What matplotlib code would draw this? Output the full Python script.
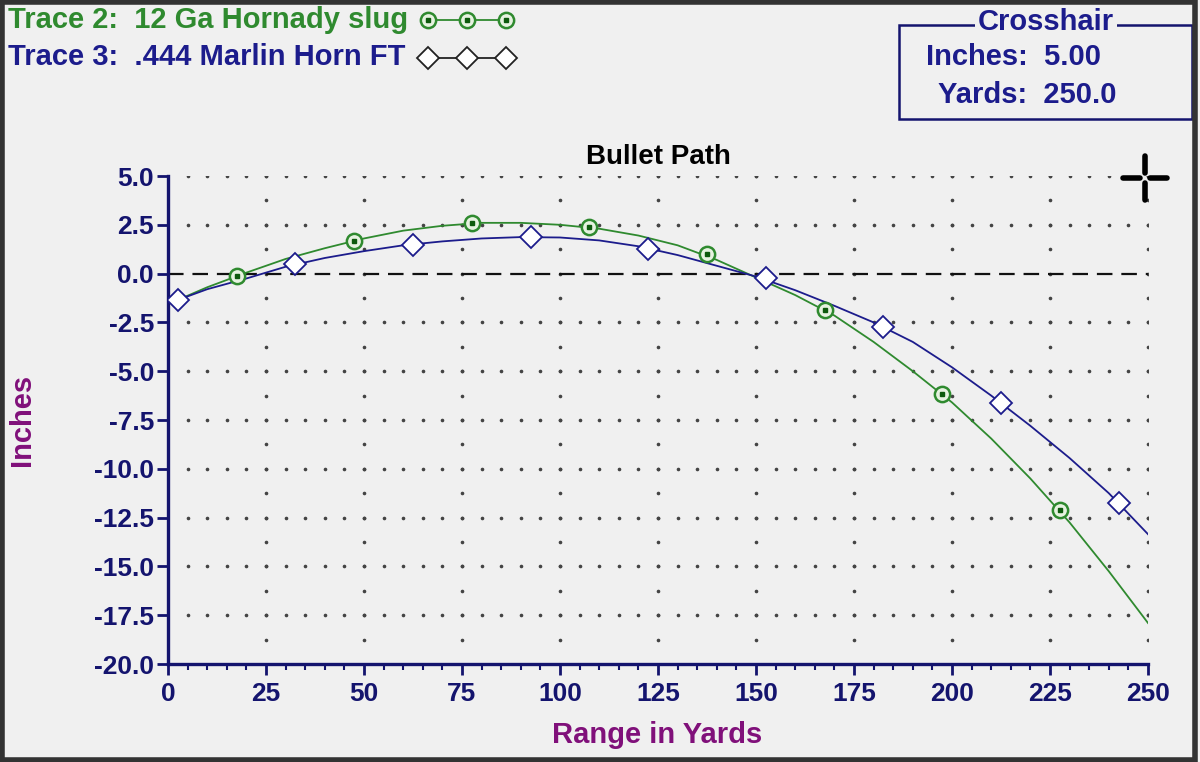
import matplotlib
matplotlib.use("Agg")
import matplotlib.pyplot as plt
import numpy as np
from matplotlib.lines import Line2D
from matplotlib.patches import Rectangle

plt.rcParams['font.family'] = ['Liberation Sans', 'DejaVu Sans']
plt.rcParams['font.weight'] = 'bold'

# trace 2: 12 Ga Hornady slug (line)
slug_range = [2.5, 10, 20, 30, 40, 50, 60, 70, 80, 90, 100, 110, 120, 130, 140,
              150, 160, 170, 180, 190, 200, 210, 220, 230, 240, 250]
slug_inches = [-1.35, -0.7, 0.05, 0.75, 1.3, 1.8, 2.2, 2.45, 2.6, 2.6, 2.5, 2.3, 1.95,
               1.45, 0.7, -0.2, -1.1, -2.15, -3.5, -5.0, -6.6, -8.45, -10.5, -12.75,
               -15.25, -17.9]
slug_mark_range = [17.5, 47.5, 77.5, 107.5, 137.5, 167.5, 197.5, 227.5]
slug_mark_inches = [-0.12, 1.67, 2.58, 2.39, 0.99, -1.86, -6.15, -12.12]

# trace 3: .444 Marlin Horn FT
marlin_range = slug_range
marlin_inches = [-1.35, -0.8, -0.25, 0.35, 0.8, 1.15, 1.45, 1.65, 1.8, 1.87, 1.85, 1.7,
                 1.4, 0.95, 0.4, -0.15, -0.85, -1.65, -2.5, -3.5, -4.8, -6.25, -7.8,
                 -9.45, -11.25, -13.35]
marlin_mark_range = [2.5, 32.5, 62.5, 92.5, 122.5, 152.5, 182.5, 212.5, 242.5]
marlin_mark_inches = [-1.33, 0.48, 1.46, 1.87, 1.26, -0.25, -2.73, -6.64, -11.75]

x_ticks = [0, 25, 50, 75, 100, 125, 150, 175, 200, 225, 250]
y_ticks = [5.0, 2.5, 0.0, -2.5, -5.0, -7.5, -10.0, -12.5, -15.0, -17.5, -20.0]

bg = '#f0f0f0'
navy = '#14146e'
green = '#2f8a2f'
blue = '#1c1c8c'
purple = '#80107a'

fig = plt.figure(figsize=(12, 7.62), dpi=100, facecolor=bg)
ax = fig.add_axes([168 / 1200, 1 - 664 / 762, 980 / 1200, 488 / 762])
ax.set_facecolor(bg)
ax.set_xlim(0, 250)
ax.set_ylim(-20, 5)

# dotted grid
gx = np.arange(5, 251, 5)
for yv in y_ticks[:-1]:
    if yv == 0:
        continue
    ax.plot(gx, [yv] * len(gx), ls='none', marker='o', ms=1.6, color='#444444', zorder=1)
gy = np.arange(-18.75, 5.01, 1.25)
for xv in x_ticks[1:]:
    ax.plot([xv] * len(gy), gy, ls='none', marker='o', ms=1.6, color='#444444', zorder=1)

ax.plot([0, 250], [0, 0], color='#111111', lw=1.6, dashes=(7, 4), zorder=2)

ax.plot(slug_range, slug_inches, color=green, lw=1.3, zorder=3)
ax.plot(marlin_range, marlin_inches, color=blue, lw=1.3, zorder=3)
ax.plot(slug_mark_range, slug_mark_inches, ls='none', marker='o', ms=11,
        mfc='#e6f2e0', mec=green, mew=1.8, zorder=4)
ax.plot(slug_mark_range, slug_mark_inches, ls='none', marker='s', ms=3.5,
        color='#0d5a0d', zorder=5)
ax.plot(marlin_mark_range, marlin_mark_inches, ls='none', marker='D', ms=11,
        mfc='white', mec=blue, mew=1.3, zorder=4)

# crosshair at 250 yds / 5.00 in
cx, cy = 1145, 178
for x0, y0, x1, y1 in [(cx - 22, cy, cx - 5, cy), (cx + 5, cy, cx + 22, cy),
                       (cx, cy - 22, cx, cy - 5), (cx, cy + 5, cx, cy + 22)]:
    fig.add_artist(Line2D([x0 / 1200, x1 / 1200], [1 - y0 / 762, 1 - y1 / 762],
                          color='black', lw=4, solid_capstyle='round'))

for s in ['top', 'right']:
    ax.spines[s].set_visible(False)
for s in ['left', 'bottom']:
    ax.spines[s].set_color(navy)
    ax.spines[s].set_linewidth(2.4)

ax.set_xticks(x_ticks)
ax.set_xticks(np.arange(0, 251, 5), minor=True)
ax.set_yticks(y_ticks)
ax.set_xticklabels([str(v) for v in x_ticks])
ax.set_yticklabels(['%.1f' % v for v in y_ticks])
ax.tick_params(axis='both', which='major', colors=navy, labelcolor=navy,
               labelsize=19, length=8, width=2)
ax.tick_params(axis='x', which='minor', colors=navy, length=4, width=1.5)
ax.tick_params(axis='x', pad=5)
ax.tick_params(axis='y', pad=2)

ax.set_title('Bullet Path', fontsize=20, color='black', fontweight='bold', pad=9)
fig.text(657 / 1200, 1 - 735 / 762, 'Range in Yards', color=purple, fontsize=21,
         ha='center', va='center', fontweight='bold')
fig.text(22 / 1200, 1 - 420 / 762, 'Inches', color=purple, fontsize=21, rotation=90,
         ha='center', va='center', fontweight='bold')

# legend at top left
fig.text(8 / 1200, 1 - 20 / 762, 'Trace 2:  12 Ga Hornady slug', color=green,
         fontsize=21, ha='left', va='center', fontweight='bold')
fig.text(8 / 1200, 1 - 57 / 762, 'Trace 3:  .444 Marlin Horn FT', color=blue,
         fontsize=21, ha='left', va='center', fontweight='bold')
lx = [428 / 1200, 467 / 1200, 506 / 1200]
fig.add_artist(Line2D(lx, [1 - 20 / 762] * 3, color=green, lw=1.3, marker='o', ms=11,
                      mfc='#e6f2e0', mec=green, mew=1.8))
fig.add_artist(Line2D(lx, [1 - 20 / 762] * 3, ls='none', marker='s', ms=3.5,
                      color='#0d5a0d'))
fig.add_artist(Line2D(lx, [1 - 58 / 762] * 3, color='#222222', lw=1.3, marker='D', ms=11,
                      mfc='white', mec='#222222', mew=1.3))

# crosshair readout box
fig.add_artist(Rectangle((899 / 1200, 1 - 119 / 762), 293 / 1200, 94 / 762,
                         transform=fig.transFigure, fill=False, ec=navy, lw=1.8))
fig.text(1046 / 1200, 1 - 22 / 762, 'Crosshair', color=blue, fontsize=21,
         ha='center', va='center', fontweight='bold',
         bbox=dict(facecolor=bg, edgecolor='none', pad=2))
fig.text(926 / 1200, 1 - 57 / 762, 'Inches:  5.00', color=blue, fontsize=21,
         ha='left', va='center', fontweight='bold')
fig.text(938 / 1200, 1 - 95 / 762, 'Yards:  250.0', color=blue, fontsize=21,
         ha='left', va='center', fontweight='bold')

# outer frame
fig.add_artist(Rectangle((0.002, 0.003), 0.994, 0.994, transform=fig.transFigure,
                         fill=False, ec='#333333', lw=4))

fig.savefig('out.png', dpi=100, facecolor=bg)
